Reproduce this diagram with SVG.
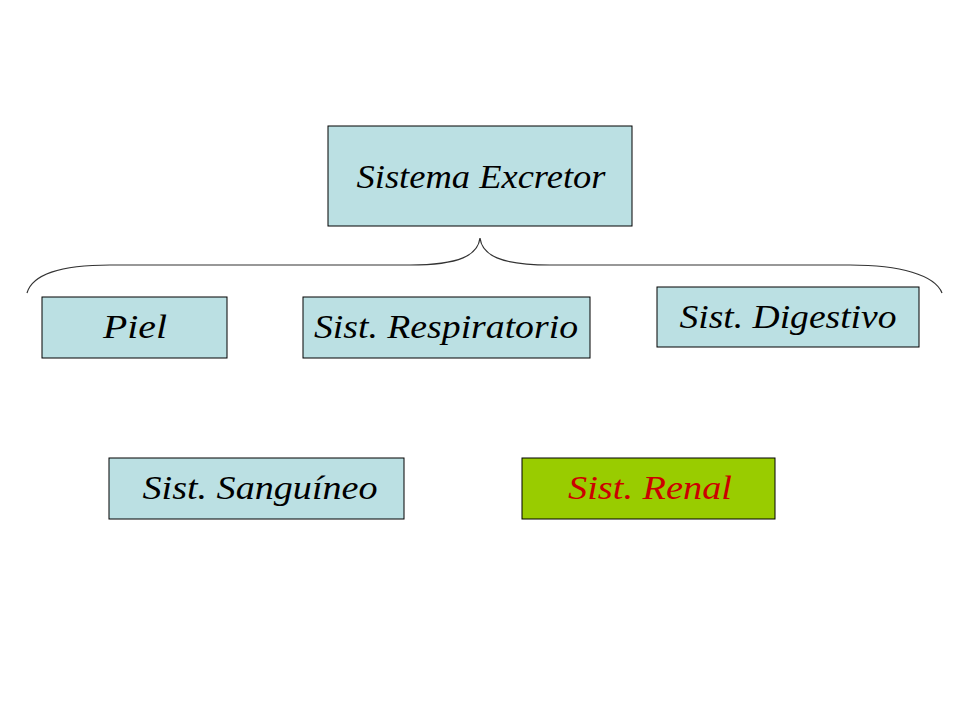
<svg xmlns="http://www.w3.org/2000/svg" width="960" height="720" viewBox="0 0 960 720">
<style>
.box{fill:#BBE0E3;stroke:#000;stroke-width:1}
.green{fill:#99CC00;stroke:#000;stroke-width:1}
.lbl{font-family:"Liberation Serif",serif;font-style:italic;font-size:34px;fill:#000;text-anchor:middle}
.red{fill:#CC0000}
.conn{fill:none;stroke:#333;stroke-width:1.2}
</style>
<rect width="960" height="720" fill="#fff"/>
<g id="connectors">
<path class="conn" d="M27,293 C32,275 60,265 110,265 L410,265 C460,265 478,255 480,238 C482,255 500,265 550,265 L850,265 C900,265 935,275 942,293"/>
</g>
<g id="n-excretor"><rect class="box" x="328" y="126" width="304" height="100"/><text class="lbl" x="481" y="188" textLength="249" lengthAdjust="spacingAndGlyphs">Sistema Excretor</text></g>
<g id="n-piel"><rect class="box" x="42" y="297" width="185" height="61"/><text class="lbl" x="135" y="338" textLength="64" lengthAdjust="spacingAndGlyphs">Piel</text></g>
<g id="n-resp"><rect class="box" x="303" y="297" width="287" height="61"/><text class="lbl" x="446" y="338" textLength="264" lengthAdjust="spacingAndGlyphs">Sist. Respiratorio</text></g>
<g id="n-dig"><rect class="box" x="657" y="287" width="262" height="60"/><text class="lbl" x="788" y="328" textLength="217" lengthAdjust="spacingAndGlyphs">Sist. Digestivo</text></g>
<g id="n-sang"><rect class="box" x="109" y="458" width="295" height="61"/><text class="lbl" x="260" y="499" textLength="235" lengthAdjust="spacingAndGlyphs">Sist. Sanguíneo</text></g>
<g id="n-renal"><rect class="green" x="522" y="458" width="253" height="61"/><text class="lbl red" x="650" y="499" textLength="164" lengthAdjust="spacingAndGlyphs">Sist. Renal</text></g>
</svg>
